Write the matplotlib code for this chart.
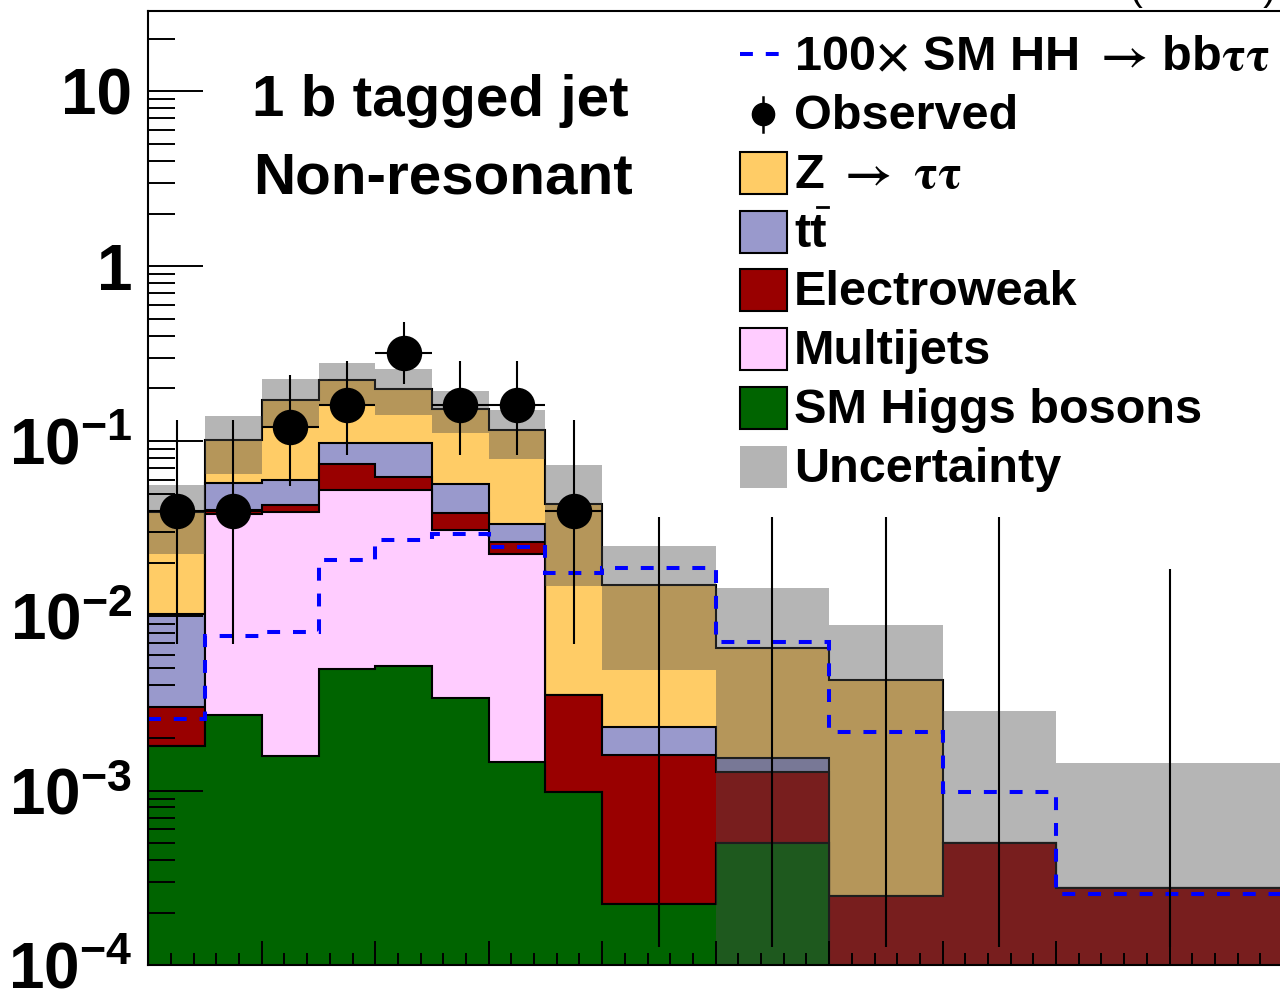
import numpy as np
import matplotlib
matplotlib.use("Agg")
import matplotlib.pyplot as plt
from matplotlib.patches import Rectangle
from matplotlib.lines import Line2D
from matplotlib.ticker import FixedLocator, FixedFormatter, LogLocator, MultipleLocator, NullFormatter

# ---------------- data ----------------
bin_edges = [0, 25, 50, 75, 100, 125, 150, 175, 200, 250, 300, 350, 400, 500]

higgs       = [1.79e-3, 2.70e-3, 1.58e-3, 4.97e-3, 5.15e-3, 3.37e-3, 1.45e-3, 9.8e-4, 2.24e-4, 5.0e-4, 0, 0, 0]
multijets   = [0, 0.0354, 0.0375, 0.0472, 0.0474, 0.0274, 0.0210, 0, 0, 0, 0, 0, 0]
electroweak = [1.2e-3, 2.0e-3, 4.2e-3, 0.0219, 0.0097, 0.0080, 0.0040, 2.54e-3, 1.37e-3, 7.7e-4, 2.5e-4, 5.0e-4, 2.78e-4]
ttbar       = [7.3e-3, 0.0174, 0.0168, 0.0234, 0.0353, 0.0182, 0.0071, 0, 7.1e-4, 2.7e-4, 0, 0, 0]
ztautau     = [0.0291, 0.0441, 0.112, 0.1245, 0.1015, 0.095, 0.0815, 0.0403, 0.0126, 4.96e-3, 4.02e-3, 0, 0]
uncertainty = [0.0168, 0.037, 0.053, 0.059, 0.059, 0.0415, 0.036, 0.029, 0.010, 0.008, 0.0046, 0.00234, 0.00115]

hh_x100     = [2.55e-3, 7.7e-3, 8.1e-3, 0.0208, 0.0273, 0.0295, 0.0248, 0.0176, 0.0188, 7.1e-3, 2.17e-3, 9.78e-4, 2.55e-4]

observed    = [0.04, 0.04, 0.12, 0.16, 0.32, 0.16, 0.16, 0.04, 0, 0, 0, 0, 0]
obs_low     = [0.0069, 0.0069, 0.055, 0.0835, 0.213, 0.0835, 0.0835, 0.0069, 1.28e-4, 1.28e-4, 1.28e-4, 1.28e-4, 1.28e-4]
obs_high    = [0.132, 0.132, 0.237, 0.286, 0.479, 0.286, 0.286, 0.132, 0.0368, 0.0368, 0.0368, 0.0368, 0.0184]

process_names  = ["SM Higgs bosons", "Multijets", "Electroweak", "tt", "Z"]
process_values = [higgs, multijets, electroweak, ttbar, ztautau]
process_colors = ["#006400", "#ffccff", "#990000", "#9999cc", "#ffcc66"]

y_tick_values = [1e-4, 1e-3, 1e-2, 1e-1, 1, 10]
y_tick_labels = [r"$\mathdefault{10^{-4}}$", r"$\mathdefault{10^{-3}}$", r"$\mathdefault{10^{-2}}$",
                 r"$\mathdefault{10^{-1}}$", "1", "10"]

legend_labels = [r"100$\times$ SM HH $\rightarrow\,$bb$\mathrm{\tau\tau}$", "Observed",
                 r"Z $\rightarrow$ $\mathrm{\tau\tau}$", "tt", "Electroweak", "Multijets",
                 "SM Higgs bosons", "Uncertainty"]
legend_colors = [None, None, "#ffcc66", "#9999cc", "#990000", "#ffccff", "#006400", "#b4b4b4"]

# ---------------- style ----------------
plt.rcParams['font.family'] = ['Liberation Sans', 'DejaVu Sans']
plt.rcParams['font.weight'] = 'bold'
plt.rcParams['mathtext.fontset'] = 'stix'

W, H = 1280, 996
fig = plt.figure(figsize=(W / 100, H / 100), dpi=100)

def fx(x):
    return x / W

def fy(y):
    return 1 - y / H

ax_left, ax_right, ax_top, ax_bottom = 148.3, 1283.0, 11.0, 965.3
ax = fig.add_axes([fx(ax_left), fy(ax_bottom), (ax_right - ax_left) / W, (ax_bottom - ax_top) / H])
ax.set_yscale('log', nonpositive='clip')
ax.set_xlim(bin_edges[0], bin_edges[-1])
ax.set_ylim(1e-4, 10 ** 1.46)

edges = np.array(bin_edges, dtype=float)
centers = 0.5 * (edges[:-1] + edges[1:])
floor = 1e-9

stack = np.cumsum(np.array(process_values), axis=0)
total = stack[-1]

# draw from top-most cumulative down
for i in range(len(process_values) - 1, -1, -1):
    ax.stairs(np.maximum(stack[i], floor), edges, baseline=floor, fill=True,
              facecolor=process_colors[i], edgecolor='black', linewidth=1.5, zorder=2 + (5 - i) * 0.1)

# uncertainty band
unc = np.array(uncertainty)
ax.stairs(total + unc, edges, baseline=np.maximum(total - unc, floor), fill=True,
          facecolor=(75 / 255, 75 / 255, 75 / 255, 0.41), edgecolor='none', linewidth=0, zorder=4)

# HH signal
ax.stairs(hh_x100, edges, baseline=None, fill=False, edgecolor='#0000ff', linewidth=2.9,
          linestyle=(0, (3.2, 3.2)), zorder=5)

# observed data
obs = np.array(observed)
ax.vlines(centers, obs_low, obs_high, color='black', linewidth=1.5, zorder=6)
nz = obs > 0
ax.hlines(obs[nz], edges[:-1][nz], edges[1:][nz], color='black', linewidth=1.5, zorder=6)
ax.plot(centers[nz], obs[nz], 'o', color='black', markersize=24.5, zorder=7)

# axes styling
ax.yaxis.set_major_locator(FixedLocator(y_tick_values))
ax.yaxis.set_major_formatter(FixedFormatter(y_tick_labels))
ax.yaxis.set_minor_locator(LogLocator(base=10, subs=np.arange(2, 10)))
ax.yaxis.set_minor_formatter(NullFormatter())
ax.xaxis.set_major_locator(MultipleLocator(50))
ax.xaxis.set_minor_locator(MultipleLocator(10))
ax.xaxis.set_major_formatter(NullFormatter())

ax.tick_params(axis='y', which='major', direction='in', length=39.6, width=1.4, labelsize=46, pad=11.5,
               left=True, right=False)
ax.tick_params(axis='y', which='minor', direction='in', length=19.5, width=1.4, left=True, right=False)
ax.tick_params(axis='x', which='major', direction='in', length=17, width=1.4, top=False, bottom=True)
ax.tick_params(axis='x', which='minor', direction='in', length=8.6, width=1.4, top=False, bottom=True)
for lab in ax.get_yticklabels():
    lab.set_fontweight('bold')

for s in ax.spines.values():
    s.set_linewidth(1.5)
    s.set_zorder(20)
ax.xaxis.set_zorder(20)
ax.yaxis.set_zorder(20)

# ---------------- text ----------------
fig.text(fx(252), fy(116), "1 b tagged jet", fontsize=42, fontweight='bold', va='baseline', ha='left')
fig.text(fx(253), fy(194), "Non-resonant", fontsize=42, fontweight='bold', va='baseline', ha='left')
fig.text(fx(1276), fy(0), "(13 TeV)", fontsize=28, fontweight='normal', va='baseline', ha='right')

# ---------------- legend (manual) ----------------
row0, drow = 55.6, 58.7
box_x0, box_w, box_h = 740, 47, 42
text_x = 794
for k, lab in enumerate(legend_labels):
    yc = row0 + k * drow
    if k == 0:
        fig.add_artist(Line2D([fx(740), fx(781)], [fy(yc - 2), fy(yc - 2)], color='#0000ff', linewidth=2.9,
                              linestyle=(0, (3.2, 3.2)), transform=fig.transFigure))
    elif k == 1:
        fig.add_artist(Line2D([fx(763), fx(763)], [fy(yc - 17), fy(yc + 18)], color='black', linewidth=1.8,
                              transform=fig.transFigure))
        fig.add_artist(Line2D([fx(763)], [fy(yc)], marker='o', markersize=16, color='black',
                              linestyle='none', transform=fig.transFigure))
    else:
        ec = 'black' if k < len(legend_labels) - 1 else 'none'
        fig.add_artist(Rectangle((fx(box_x0), fy(yc + box_h / 2)), box_w / W, box_h / H,
                                 facecolor=legend_colors[k], edgecolor=ec, linewidth=1.5,
                                 transform=fig.transFigure))
    fig.text(fx(text_x), fy(yc + 15), lab, fontsize=35, fontweight='bold', va='baseline', ha='left')
    if lab == "tt":
        # overline on the second t
        fig.add_artist(Line2D([fx(817), fx(828)], [fy(yc - 25), fy(yc - 25)], color='black', linewidth=2.0,
                              transform=fig.transFigure))

fig.savefig("out.png", dpi=100)
